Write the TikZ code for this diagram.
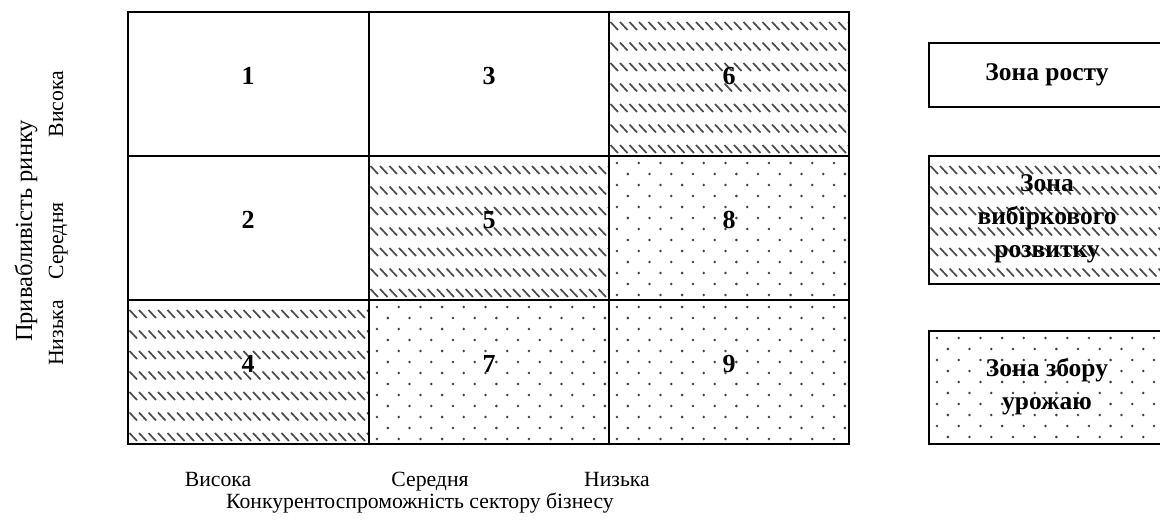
\documentclass[tikz,border=0pt]{standalone}
\usepackage{fontspec}
\setmainfont{Liberation Serif}
\tikzset{
  gridline/.style={line width=2pt},
  legendbox/.style={line width=2pt},
  hatchstroke/.style={line width=1.7pt, black!70},
  numlabel/.style={font=\fontsize{26}{30}\selectfont\bfseries, inner sep=0pt},
  axislabel/.style={font=\fontsize{21.7}{26}\selectfont, inner sep=0pt},
  axistitle/.style={font=\fontsize{24.5}{28}\selectfont, inner sep=0pt},
  legendtext/.style={font=\fontsize{25.5}{33}\selectfont\bfseries, align=center, inner sep=0pt}
}
% hatched fill: rows of short back-slanted strokes
\newcommand\hatchzone[4]{%
  \begin{scope}
    \clip (#1,#2) rectangle (#3,#4);
    \begin{scope}[shift={(#1,#2)}]
      \foreach \yy in {14,34.5,...,175}
        \foreach \xx in {-8,1.5,...,260}
          \draw[hatchstroke] (\xx,\yy-4) -- ++(7.5,8);
    \end{scope}
  \end{scope}}
% dotted fill: staggered grid of small dots
\newcommand\dotzone[4]{%
  \begin{scope}
    \clip (#1,#2) rectangle (#3,#4);
    \begin{scope}[shift={(#1,#2)}]
      \foreach \r in {0,...,14}
        \foreach \c in {0,...,12}
          \fill[black!75] ({\c*21.7+mod(\r,2)*10.85+8},{\r*11+7}) circle (1.4);
    \end{scope}
  \end{scope}}
\begin{document}
\begin{tikzpicture}[x=1pt,y=-1pt]
\useasboundingbox (0,0) rectangle (1160,521);

% cell fills
\hatchzone{609}{12}{849}{156}
\hatchzone{369}{156}{609}{300}
\hatchzone{128}{300}{369}{444}
\dotzone{609}{156}{849}{300}
\dotzone{369}{300}{609}{444}
\dotzone{609}{300}{849}{444}

% matrix grid
\draw[gridline] (128,12) rectangle (849,444);
\draw[gridline] (369,12) -- (369,444);
\draw[gridline] (609,12) -- (609,444);
\draw[gridline] (128,156) -- (849,156);
\draw[gridline] (128,300) -- (849,300);

% cell numbers
\node[numlabel] (n1) at (248,76) {1};
\node[numlabel] (n3) at (489,76) {3};
\node[numlabel] (n6) at (729,76) {6};
\node[numlabel] (n2) at (248,220) {2};
\node[numlabel] (n5) at (489,220) {5};
\node[numlabel] (n8) at (729,220) {8};
\node[numlabel] (n4) at (248,364) {4};
\node[numlabel] (n7) at (489,364) {7};
\node[numlabel] (n9) at (729,364) {9};

% horizontal axis
\node[axislabel, anchor=base] (xhigh) at (218,486) {Висока};
\node[axislabel, anchor=base] (xmid) at (430,486) {Середня};
\node[axislabel, anchor=base] (xlow) at (617,486) {Низька};
\node[axislabel, anchor=base] (xtitle) at (420,508) {Конкурентоспроможність сектору бізнесу};

% vertical axis
\node[axistitle, rotate=90, anchor=base] (ytitle) at (32,231) {Привабливість ринку};
\node[axislabel, rotate=90, anchor=base] (yhigh) at (63,104) {Висока};
\node[axislabel, rotate=90, anchor=base] (ymid) at (63,241) {Середня};
\node[axislabel, rotate=90, anchor=base] (ylow) at (63,333) {Низька};

% legend
\draw[legendbox] (929,43) rectangle (1164,107);
\node[legendtext] (lg1) at (1047,75) {Зона росту};

\hatchzone{929}{156}{1164}{284}
\draw[legendbox] (929,156) rectangle (1164,284);
\node[legendtext] (lg2) at (1047,219) {Зона\\вибіркового\\розвитку};

\dotzone{929}{331}{1164}{444}
\draw[legendbox] (929,331) rectangle (1164,444);
\node[legendtext] (lg3) at (1047,387) {Зона збору\\урожаю};
\end{tikzpicture}
\end{document}
